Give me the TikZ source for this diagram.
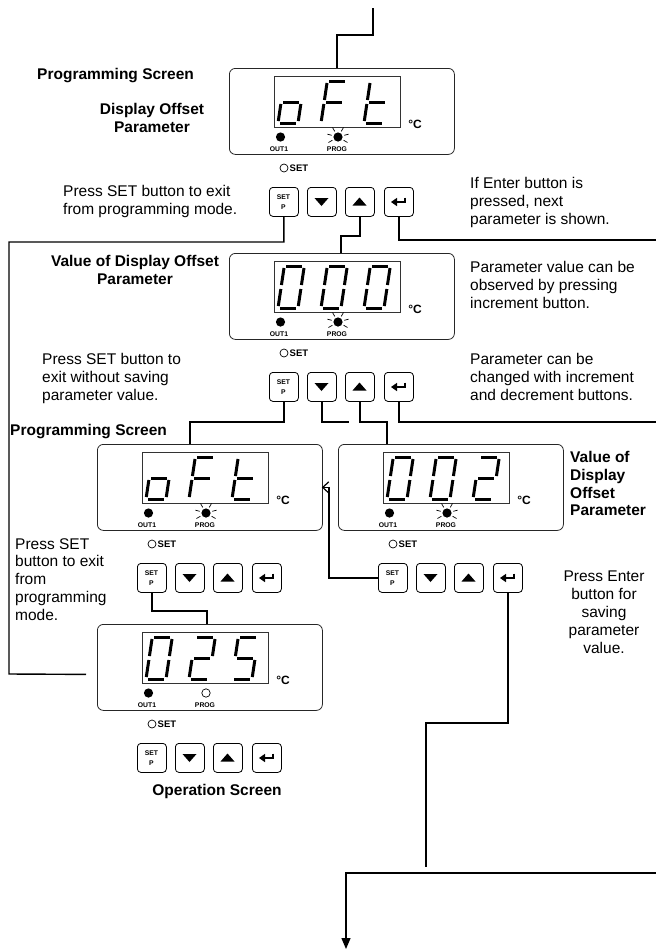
\documentclass[tikz,border=0pt]{standalone}
\usepackage{fontspec}
\setmainfont{Liberation Sans}
\usetikzlibrary{calc,arrows.meta}

\tikzset{
  panel/.style={draw=black!85, line width=0.8pt, rounded corners=6pt, minimum width=225pt, minimum height=86pt, inner sep=0pt, anchor=north west},
  lcd/.style={draw=black!80, line width=0.7pt, minimum width=126pt, minimum height=51pt, inner sep=0pt, anchor=north west},
  btn/.style={draw=black, line width=0.8pt, rounded corners=3.5pt, minimum width=29pt, minimum height=29pt, inner sep=0pt, anchor=north west},
  seg/.style={line width=3pt, shorten <=2pt, shorten >=2pt},
  conn/.style={line width=1.4pt},
  lbl/.style={font=\fontsize{15.5}{17.8}\selectfont, inner sep=0pt, align=left},
  blbl/.style={font=\fontsize{15.5}{17.8}\selectfont\bfseries, inner sep=0pt},
  tinylbl/.style={font=\fontsize{6.8}{7}\selectfont\bfseries, inner sep=0pt},
  setlbl/.style={font=\fontsize{9.5}{10}\selectfont\bfseries, inner sep=0pt},
  degc/.style={font=\fontsize{12}{12}\selectfont\bfseries, inner sep=0pt},
  btnset/.style={font=\fontsize{6.8}{7}\selectfont\bfseries, inner sep=0pt},
  ray/.style={line width=0.7pt}
}

\def\dZero{TL/TR,TR/MR,MR/BR,BL/BR,ML/BL,TL/ML}
\def\dTwo{TL/TR,TR/MR,ML/MR,ML/BL,BL/BR}
\def\dFive{TL/TR,TL/ML,ML/MR,MR/BR,BL/BR}
\def\dLo{ML/MR,MR/BR,BL/BR,ML/BL}
\def\dF{TL/TR,TL/ML,ML/MR,ML/BL}
\def\dLt{TL/ML,ML/BL,BL/BR,ML/MR}

% #1,#2: bottom-left corner x and top y of a slanted seven-segment digit
\newcommand{\sdigit}[3]{%
  \begin{scope}[shift={(#1,#2)}]
    \coordinate (TL) at (6.3,0);
    \coordinate (TR) at (26.3,0);
    \coordinate (ML) at (3.15,21);
    \coordinate (MR) at (23.15,21);
    \coordinate (BL) at (0,42);
    \coordinate (BR) at (20,42);
    \foreach \p/\q in #3 {\draw[seg] (\p) -- (\q);}
  \end{scope}}

\newcommand{\dpanel}[7]{%
  \begin{scope}[shift={(#2,#3)}]
    \node[panel] (#1) at (0,0) {};
    \node[lcd] (#1lcd) at (45,8) {};
    \sdigit{49}{13}{#4}
    \sdigit{92}{13}{#5}
    \sdigit{135}{13}{#6}
    \node[degc] (#1deg) at (186,56) {°C};
    \fill (51.5,69) circle (4.6);
    \node[tinylbl] (#1out) at (50,81) {OUT1};
    \ifnum#7=1
      \fill (109,69) circle (4.6);
      \foreach \a in {-15,-60,-120,-165,-210,-330}
        {\draw[ray] (109,69) ++(\a:6.5) -- ++(\a:4.5);}
    \else
      \draw[line width=0.7pt] (109,69) circle (4.2);
    \fi
    \node[tinylbl] (#1prog) at (108,81) {PROG};
    \draw[line width=0.7pt] (55,100) circle (4);
    \node[setlbl, anchor=west] (#1setl) at (60.5,100) {SET};
    \node[btn] (#1set) at (40,119) {};
    \node[btn] (#1dn) at (78,119) {};
    \node[btn] (#1up) at (116,119) {};
    \node[btn] (#1en) at (155,119) {};
    \node[btnset] (#1setA) at (54.5,129) {SET};
    \node[btnset] (#1setB) at (54.5,139.5) {P};
    \fill (85.5,130) -- (99.5,130) -- (92.5,138) -- cycle;
    \fill (123.5,137.5) -- (137.5,137.5) -- (130.5,129.5) -- cycle;
    \draw[line width=2pt] (176,129.5) -- (176,134) -- (167,134);
    \fill (162,134) -- (168,129.8) -- (168,138.2) -- cycle;
  \end{scope}}

\begin{document}
\begin{tikzpicture}[x=1pt,y=-1pt]
\useasboundingbox (0,0) rectangle (656,951);

% panels
\dpanel{p1}{229}{68}{\dLo}{\dF}{\dLt}{1}
\dpanel{p2}{229}{253}{\dZero}{\dZero}{\dZero}{1}
\dpanel{p4}{97}{444}{\dLo}{\dF}{\dLt}{1}
\dpanel{p5}{338}{444}{\dZero}{\dZero}{\dTwo}{1}
\dpanel{p3}{97}{624}{\dZero}{\dTwo}{\dFive}{0}

% texts
\node[blbl, anchor=west] (t1) at (37,76) {Programming Screen};
\node[blbl, align=center, anchor=north] (t2) at (152,103) {Display Offset\\Parameter};
\node[lbl, anchor=north west] (t3) at (63,185) {Press SET button to exit\\from programming mode.};
\node[lbl, anchor=north west] (t4) at (470,177) {If Enter button is\\pressed, next\\parameter is shown.};
\node[blbl, align=center, anchor=north] (t5) at (135,255) {Value of Display Offset\\Parameter};
\node[lbl, anchor=north west] (t6) at (470,261) {Parameter value can be\\observed by pressing\\increment button.};
\node[lbl, anchor=north west] (t7) at (42,353) {Press SET button to\\exit without saving\\parameter value.};
\node[lbl, anchor=north west] (t8) at (470,353) {Parameter can be\\changed with increment\\and decrement buttons.};
\node[blbl, anchor=west] (t9) at (10,432) {Programming Screen};
\node[blbl, align=left, anchor=north west] (t10) at (570,451) {Value of\\Display\\Offset\\Parameter};
\node[lbl, anchor=north west] (t11) at (15,538) {Press SET\\button to exit\\from\\programming\\mode.};
\node[lbl, align=center, anchor=north] (t12) at (604,571) {Press Enter\\button for\\saving\\parameter\\value.};
\node[blbl] (t13) at (217,791) {Operation Screen};

% connectors
\coordinate (topin) at (373,8);
\draw[conn] (topin) |- ($(p1.north west)+(108,-33)$) -- ($(p1.north west)+(108,0)$);

\coordinate (l3) at ($(p3.west)+(-11,7)$);
\draw[conn] (p1set.south) |- (9,242) -- (9,674) -- (l3);

\draw[conn] (p1up.south) |- ($(p2.north west)+(112,-17)$) -- ($(p2.north west)+(112,0)$);

\coordinate (r1) at (656,240);
\draw[conn] (p1en.south) |- (r1);

\draw[conn] (p2set.south) |- ($(p4.north west)+(93,-22)$) -- ($(p4.north west)+(93,0)$);

\coordinate (d2) at (349,422);
\draw[conn] (p2dn.south) |- (d2);

\draw[conn] (p2up.south) |- ($(p5.north west)+(49,-22)$) -- ($(p5.north west)+(49,0)$);

\coordinate (r2) at (656,422);
\draw[conn] (p2en.south) |- (r2);

\draw[conn] (p4set.south) |- ($(p3.north west)+(110,-13)$) -- ($(p3.north west)+(110,0)$);

\draw[conn, -{Straight Barb[length=6pt,width=11pt,line width=1.2pt]}] (p5set.west) -| ($(p4.east)+(6,0)$) -- ($(p4.east)+(-1,0)$);

\coordinate (e5) at (426,867);
\draw[conn] (p5en.south) |- (426,723) -- (e5);

\coordinate (r3) at (656,873);
\coordinate (bot) at (346,949);
\draw[conn, -{Triangle[length=11pt,width=9pt]}] (r3) -| (bot);
\end{tikzpicture}
\end{document}
